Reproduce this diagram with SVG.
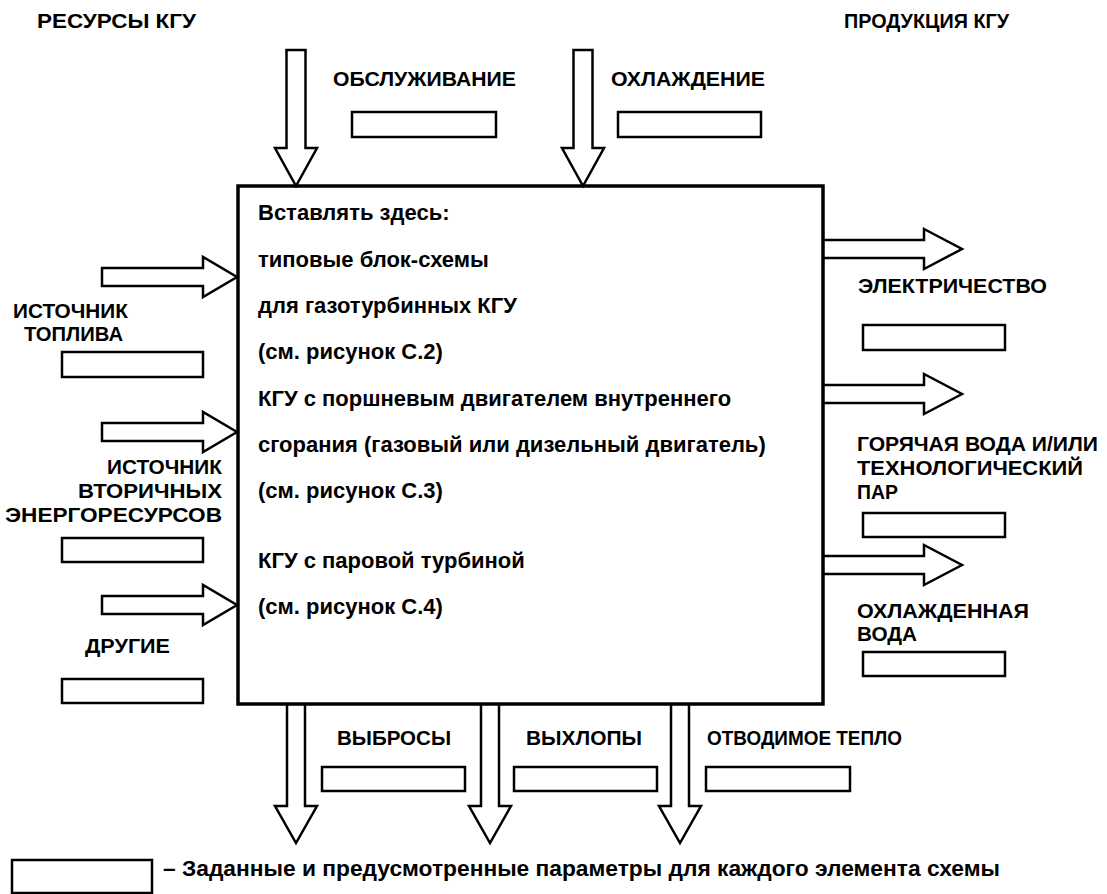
<svg xmlns="http://www.w3.org/2000/svg" width="1107" height="894" viewBox="0 0 1107 894">
<style>
text { font-family: "Liberation Sans", Arial, sans-serif; font-weight: bold; fill: #000; }
.lbl { font-size: 21px; }
.main { font-size: 22px; }
.arrow { fill: #fff; stroke: #000; stroke-width: 2.5; stroke-linejoin: miter; }
.pbox { fill: #fff; stroke: #000; stroke-width: 2.5; }
.frame { fill: none; stroke: #000; stroke-width: 3.5; }
</style>
<rect x="0" y="0" width="1107" height="894" fill="#fff"/>

<g id="headers">
  <text class="lbl" x="37" y="28" textLength="159" lengthAdjust="spacingAndGlyphs">РЕСУРСЫ КГУ</text>
  <text class="lbl" x="844" y="28" textLength="165" lengthAdjust="spacingAndGlyphs">ПРОДУКЦИЯ КГУ</text>
</g>

<g id="connectors">
  <!-- top inputs -->
  <path class="arrow" d="M286.5,148 V50 H305.5 V148 H317 L296,186 L275,148 Z"/>
  <path class="arrow" d="M573.5,148 V50 H592.5 V148 H604 L583,186 L562,148 Z"/>
  <!-- left inputs -->
  <path class="arrow" d="M102,268 H203 V257 L237,277 L203,297 V286 H102 Z"/>
  <path class="arrow" d="M102,423 H203 V412 L237,432 L203,452 V441 H102 Z"/>
  <path class="arrow" d="M102,596 H203 V585 L237,605 L203,625 V614 H102 Z"/>
  <!-- right outputs -->
  <path class="arrow" d="M823,240 H924 V229 L962,249 L924,269 V258 H823"/>
  <path class="arrow" d="M823,385 H924 V374 L962,394 L924,414 V403 H823"/>
  <path class="arrow" d="M823,556 H924 V545 L962,565 L924,585 V574 H823"/>
  <!-- bottom outputs -->
  <path class="arrow" d="M287,704 V806 H275 L296,843 L317,806 H305 V704"/>
  <path class="arrow" d="M481,704 V806 H469 L490,843 L511,806 H499 V704"/>
  <path class="arrow" d="M671,704 V806 H659 L680,843 L701,806 H689 V704"/>
</g>

<g id="kgu">
  <rect class="frame" x="238" y="186" width="585" height="518"/>
  <text class="main" x="258" y="220">Вставлять здесь:</text>
  <text class="main" x="258" y="267">типовые блок-схемы</text>
  <text class="main" x="258" y="313">для газотурбинных КГУ</text>
  <text class="main" x="258" y="359">(см. рисунок С.2)</text>
  <text class="main" x="258" y="406">КГУ с поршневым двигателем внутреннего</text>
  <text class="main" x="258" y="452">сгорания (газовый или дизельный двигатель)</text>
  <text class="main" x="258" y="498">(см. рисунок С.3)</text>
  <text class="main" x="258" y="568">КГУ с паровой турбиной</text>
  <text class="main" x="258" y="614">(см. рисунок С.4)</text>
</g>

<g id="obsluzhivanie">
  <text class="lbl" x="333" y="86" textLength="183" lengthAdjust="spacingAndGlyphs">ОБСЛУЖИВАНИЕ</text>
  <rect class="pbox" x="352" y="112" width="144" height="25"/>
</g>
<g id="ohlazhdenie">
  <text class="lbl" x="611" y="86" textLength="154" lengthAdjust="spacingAndGlyphs">ОХЛАЖДЕНИЕ</text>
  <rect class="pbox" x="618" y="112" width="143" height="25"/>
</g>

<g id="toplivo">
  <text class="lbl" x="13" y="318" textLength="115" lengthAdjust="spacingAndGlyphs">ИСТОЧНИК</text>
  <text class="lbl" x="24" y="341" textLength="99" lengthAdjust="spacingAndGlyphs">ТОПЛИВА</text>
  <rect class="pbox" x="62" y="352" width="141" height="25"/>
</g>
<g id="ver">
  <text class="lbl" x="107" y="474" textLength="115" lengthAdjust="spacingAndGlyphs">ИСТОЧНИК</text>
  <text class="lbl" x="78" y="498" textLength="144" lengthAdjust="spacingAndGlyphs">ВТОРИЧНЫХ</text>
  <text class="lbl" x="5" y="522" textLength="217" lengthAdjust="spacingAndGlyphs">ЭНЕРГОРЕСУРСОВ</text>
  <rect class="pbox" x="62" y="538" width="141" height="24"/>
</g>
<g id="drugie">
  <text class="lbl" x="85" y="653" textLength="85" lengthAdjust="spacingAndGlyphs">ДРУГИЕ</text>
  <rect class="pbox" x="62" y="679" width="141" height="24"/>
</g>

<g id="electricity">
  <text class="lbl" x="858" y="293" textLength="189" lengthAdjust="spacingAndGlyphs">ЭЛЕКТРИЧЕСТВО</text>
  <rect class="pbox" x="863" y="325" width="142" height="25"/>
</g>
<g id="hotwater">
  <text class="lbl" x="857" y="451" textLength="241" lengthAdjust="spacingAndGlyphs">ГОРЯЧАЯ ВОДА И/ИЛИ</text>
  <text class="lbl" x="857" y="475" textLength="226" lengthAdjust="spacingAndGlyphs">ТЕХНОЛОГИЧЕСКИЙ</text>
  <text class="lbl" x="857" y="499" textLength="41" lengthAdjust="spacingAndGlyphs">ПАР</text>
  <rect class="pbox" x="863" y="513" width="142" height="24"/>
</g>
<g id="chilledwater">
  <text class="lbl" x="857" y="618" textLength="172" lengthAdjust="spacingAndGlyphs">ОХЛАЖДЕННАЯ</text>
  <text class="lbl" x="857" y="641" textLength="60" lengthAdjust="spacingAndGlyphs">ВОДА</text>
  <rect class="pbox" x="863" y="652" width="142" height="24"/>
</g>

<g id="vybrosy">
  <text class="lbl" x="337" y="745" textLength="114" lengthAdjust="spacingAndGlyphs">ВЫБРОСЫ</text>
  <rect class="pbox" x="322" y="767" width="143" height="24"/>
</g>
<g id="vyhlopy">
  <text class="lbl" x="526" y="745" textLength="116" lengthAdjust="spacingAndGlyphs">ВЫХЛОПЫ</text>
  <rect class="pbox" x="514" y="767" width="143" height="24"/>
</g>
<g id="teplo">
  <text class="lbl" x="707" y="745" textLength="195" lengthAdjust="spacingAndGlyphs">ОТВОДИМОЕ ТЕПЛО</text>
  <rect class="pbox" x="706" y="767" width="144" height="24"/>
</g>

<g id="legend">
  <rect class="pbox" x="12" y="860" width="140" height="33"/>
  <text class="main" x="163" y="876" textLength="837" lengthAdjust="spacingAndGlyphs">– Заданные и предусмотренные параметры для каждого элемента схемы</text>
</g>
</svg>
